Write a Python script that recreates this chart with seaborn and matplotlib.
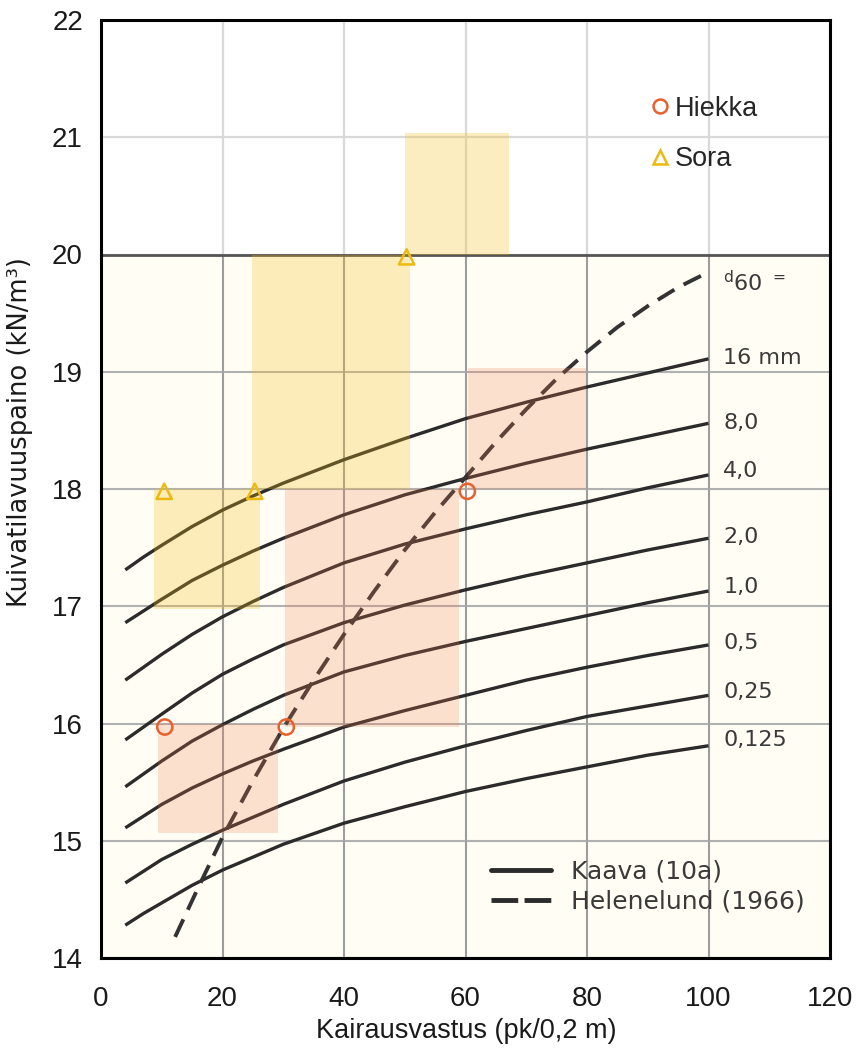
import numpy as np
import pandas as pd
import matplotlib
matplotlib.use("Agg")
import matplotlib.pyplot as plt
import seaborn as sns
from matplotlib.lines import Line2D
from matplotlib import font_manager

# ---------------- data ----------------
x_ticks = [0, 20, 40, 60, 80, 100, 120]
y_ticks = [14, 15, 16, 17, 18, 19, 20, 21, 22]

# Kaava (10a) curves, one per d60
kaava_x = [4, 7, 10, 15, 20, 25, 30, 40, 50, 60, 70, 80, 90, 100]
d60_names = ["16 mm", "8,0", "4,0", "2,0", "1,0", "0,5", "0,25", "0,125"]
y_d16 = [17.31, 17.42, 17.52, 17.68, 17.82, 17.94, 18.05, 18.25, 18.43, 18.60, 18.74, 18.87, 18.99, 19.11]
y_d8 = [16.86, 16.96, 17.06, 17.22, 17.35, 17.47, 17.58, 17.78, 17.95, 18.09, 18.22, 18.34, 18.45, 18.56]
y_d4 = [16.37, 16.48, 16.59, 16.76, 16.91, 17.04, 17.16, 17.37, 17.53, 17.66, 17.78, 17.89, 18.01, 18.12]
y_d2 = [15.86, 15.97, 16.08, 16.26, 16.42, 16.55, 16.67, 16.86, 17.01, 17.14, 17.26, 17.37, 17.48, 17.58]
y_d1 = [15.46, 15.57, 15.68, 15.85, 15.99, 16.12, 16.24, 16.44, 16.58, 16.70, 16.81, 16.92, 17.03, 17.13]
y_d05 = [15.11, 15.21, 15.31, 15.45, 15.57, 15.68, 15.78, 15.97, 16.11, 16.24, 16.37, 16.48, 16.58, 16.67]
y_d025 = [14.64, 14.74, 14.84, 14.97, 15.09, 15.20, 15.31, 15.51, 15.67, 15.81, 15.94, 16.06, 16.15, 16.24]
y_d0125 = [14.28, 14.38, 14.47, 14.62, 14.75, 14.86, 14.97, 15.15, 15.29, 15.42, 15.53, 15.63, 15.73, 15.81]

# Helenelund (1966)
hel_x = [12.2, 16, 20, 25, 30, 35, 40, 45, 50, 55, 60, 65, 70, 75, 80, 85, 90, 95, 100]
hel_y = [14.18, 14.60, 15.03, 15.51, 15.96, 16.37, 16.76, 17.13, 17.48, 17.80, 18.10,
         18.40, 18.68, 18.94, 19.17, 19.38, 19.56, 19.72, 19.85]

# ranges (boxes)
sora_x0 = [8.8, 24.8, 50.0]
sora_x1 = [26.2, 50.8, 67.2]
sora_y0 = [16.98, 18.0, 20.0]
sora_y1 = [18.0, 20.0, 21.04]
hiekka_x0 = [9.4, 30.3, 60.4]
hiekka_x1 = [29.1, 59.0, 79.8]
hiekka_y0 = [15.07, 15.97, 18.0]
hiekka_y1 = [16.0, 18.0, 19.03]

# points
hiekka_px = [10.5, 30.5, 60.3]
hiekka_py = [15.97, 15.97, 17.98]
sora_px = [10.4, 25.3, 50.3]
sora_py = [17.98, 17.98, 19.98]

# ---------------- style ----------------
sns.set_theme(style="white")
plt.rcParams["font.family"] = ["Liberation Sans", "DejaVu Sans"]


def has_font(name):
    try:
        font_manager.findfont(font_manager.FontProperties(family=name), fallback_to_default=False)
        return True
    except Exception:
        return False


if has_font("Liberation Sans Narrow"):
    tick_fam, tick_size, xl_size = ["Liberation Sans Narrow", "DejaVu Sans"], 23, 23.5
else:
    tick_fam, tick_size, xl_size = ["Liberation Sans", "DejaVu Sans"], 20, 19.5

fig = plt.figure(figsize=(8.58, 10.57), dpi=100)
ax = fig.add_axes([101 / 858, 99 / 1057, 729 / 858, 938 / 1057])
ax.set_xlim(x_ticks[0], x_ticks[-1])
ax.set_ylim(y_ticks[0], y_ticks[-1])

# scanned nomogram background
scan_top = 20
ax.fill_between([x_ticks[0], x_ticks[-1]], y_ticks[0], scan_top, color="#FFFDF4", zorder=0.2, lw=0)

ax.set_xticks(x_ticks)
ax.set_yticks(y_ticks)
ax.grid(True, color="#d9d9d9", lw=1.6, zorder=0.5)
ax.set_axisbelow(True)
# scan's own grid
ax.vlines(x_ticks[1:-1], y_ticks[0], scan_top, colors="#8c8c8c", lw=1.1, zorder=0.7)
ax.hlines([y for y in y_ticks if y_ticks[0] < y < scan_top], x_ticks[0], x_ticks[-1],
          colors="#a6a6a6", lw=1.1, zorder=0.7)
ax.hlines([scan_top], x_ticks[0], x_ticks[-1], colors="#555555", lw=2.0, zorder=0.8)

# curves
curve_vals = [y_d16, y_d8, y_d4, y_d2, y_d1, y_d05, y_d025, y_d0125]
df_k = pd.DataFrame({
    "x": np.tile(kaava_x, len(d60_names)),
    "y": np.concatenate(curve_vals),
    "d60": np.repeat(d60_names, len(kaava_x)),
})
sns.lineplot(data=df_k, x="x", y="y", units="d60", estimator=None, sort=False,
             color="#2b2b2b", lw=2.4, ax=ax, zorder=2, solid_capstyle="butt",
             solid_joinstyle="round")
sns.lineplot(x=hel_x, y=hel_y, sort=False, estimator=None, color="#333333", lw=2.8,
             linestyle=(0, (5.0, 2.7)), ax=ax, zorder=2)

# boxes
ax.bar(sora_x0, np.subtract(sora_y1, sora_y0), width=np.subtract(sora_x1, sora_x0),
       bottom=sora_y0, align="edge", color="#F5C01A", alpha=0.27, lw=0, zorder=3)
ax.bar(hiekka_x0, np.subtract(hiekka_y1, hiekka_y0), width=np.subtract(hiekka_x1, hiekka_x0),
       bottom=hiekka_y0, align="edge", color="#F4794A", alpha=0.22, lw=0, zorder=3)

# points
c_h, c_s = "#E8602C", "#EDB90F"
sns.scatterplot(x=hiekka_px, y=hiekka_py, marker="o", s=120, facecolor="none",
                edgecolor=c_h, linewidth=1.8, ax=ax, zorder=5)
sns.scatterplot(x=sora_px, y=sora_py, marker="^", s=120, facecolor="none",
                edgecolor=c_s, linewidth=1.8, ax=ax, zorder=5)

# labels for d60 curves
lab_x = 102.4
lab_y = [19.12, 18.56, 18.15, 17.59, 17.16, 16.69, 16.27, 15.86]
for name, yy in zip(d60_names, lab_y):
    ax.text(lab_x, yy, name, fontsize=16, color="#3a3a3a", va="center", ha="left",
            family=["DejaVu Sans"], zorder=4)
ax.text(lab_x, 19.76, r"$\mathregular{{}^{d}60\ {}^{=}}$", fontsize=16, color="#3a3a3a",
        va="center", ha="left", family=["DejaVu Sans"], zorder=4)

# legends
h1 = [Line2D([], [], ls="none", marker="o", ms=10, mfc="none", mec=c_h, mew=1.8),
      Line2D([], [], ls="none", marker="^", ms=10, mfc="none", mec=c_s, mew=1.8)]
leg1 = ax.legend(h1, ["Hiekka", "Sora"], loc="upper left", bbox_to_anchor=(0.756, 0.919),
                 frameon=False, fontsize=19.5, handlelength=0.6, handletextpad=0.25,
                 labelspacing=0.9, borderpad=0, borderaxespad=0)
ax.add_artist(leg1)
h2 = [Line2D([], [], color="#2b2b2b", lw=3.5),
      Line2D([], [], color="#2b2b2b", lw=3.5, ls=(0, (5.5, 1.3)))]
leg2 = ax.legend(h2, ["Kaava (10a)", "Helenelund (1966)"], loc="upper left",
                 bbox_to_anchor=(0.535, 0.105), frameon=False,
                 prop={"family": "DejaVu Sans", "size": 18}, labelcolor="#3a3a3a",
                 handlelength=2.4, handletextpad=0.8, labelspacing=0.25,
                 borderpad=0, borderaxespad=0)

# axes styling
for s in ax.spines.values():
    s.set_color("black")
    s.set_linewidth(2.2)
ax.tick_params(length=0)
ax.tick_params(axis="y", pad=13)
ax.tick_params(axis="x", pad=20)
for t in ax.get_xticklabels() + ax.get_yticklabels():
    t.set_family(tick_fam)
    t.set_fontsize(tick_size)
    t.set_color("#1a1a1a")

ax.set_xlabel("Kairausvastus (pk/0,2 m)", family=tick_fam, fontsize=xl_size, color="#1a1a1a")
ax.xaxis.set_label_coords(0.5007, -0.064)
ax.set_ylabel("Kuivatilavuuspaino (kN/m³)", family=["DejaVu Sans"], fontsize=18.5, color="#1a1a1a")
ax.yaxis.set_label_coords(-0.093, 0.561)

fig.savefig("out.png", dpi=100)
